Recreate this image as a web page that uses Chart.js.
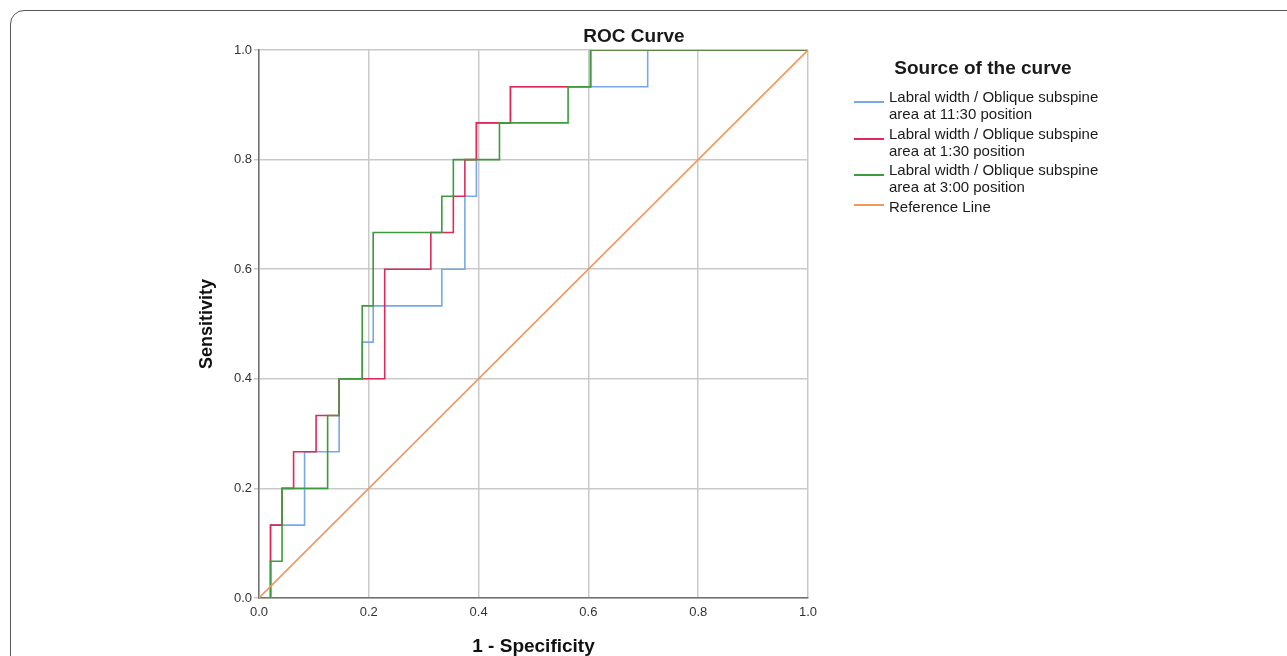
<!DOCTYPE html>
<html>
<head>
<meta charset="utf-8">
<title>ROC Curve</title>
<script src="https://cdn.jsdelivr.net/npm/chart.js@4.4.1/dist/chart.umd.min.js"></script>
<style>
    body { margin: 0; background: #ffffff; overflow: hidden; font-family: "Liberation Sans", Arial, sans-serif; }
    #frame { position: absolute; left: 10px; top: 10px; width: 1320px; height: 700px; border: 1.5px solid #555555; border-top-left-radius: 14px; }
    #myChart { position: absolute; left: 0; top: 0; }
    #chartTitle { position: absolute; left: 534px; top: 25px; width: 200px; text-align: center; font-size: 19px; line-height: 22px; font-weight: bold; color: #1a1a1a; }
    #legend { position: absolute; left: 853px; top: 57px; width: 260px; color: #1a1a1a; }
    #legend .legend_title { text-align: center; font-size: 19px; line-height: 22px; font-weight: bold; margin-bottom: 9px; }
    #legend .legend_item { display: flex; align-items: flex-start; margin-bottom: 2.5px; }
    #legend .legend_line { width: 30px; height: 2px; margin-right: 5px; margin-left: 1px; flex: none; }
    #legend .legend_text { font-size: 15px; line-height: 17px; }
</style>
</head>
<body>
<div id="frame"></div>
<canvas id="myChart" width="1287" height="656"></canvas>
<div id="chartTitle">ROC Curve</div>
<div id="legend"></div>
<script>
var chart;

// ROC coordinates (1 - specificity, sensitivity)
const fpr1130 = [0, 0.021, 0.021, 0.083, 0.083, 0.146, 0.146, 0.188, 0.188, 0.208, 0.208, 0.333, 0.333, 0.375, 0.375, 0.396, 0.396, 0.458, 0.458, 0.708, 0.708, 1];
const tpr1130 = [0, 0, 0.133, 0.133, 0.267, 0.267, 0.4, 0.4, 0.467, 0.467, 0.533, 0.533, 0.6, 0.6, 0.733, 0.733, 0.867, 0.867, 0.933, 0.933, 1, 1];

const fpr130 = [0, 0.021, 0.021, 0.042, 0.042, 0.063, 0.063, 0.104, 0.104, 0.146, 0.146, 0.229, 0.229, 0.313, 0.313, 0.354, 0.354, 0.375, 0.375, 0.396, 0.396, 0.458, 0.458, 0.604, 0.604, 1];
const tpr130 = [0, 0, 0.133, 0.133, 0.2, 0.2, 0.267, 0.267, 0.333, 0.333, 0.4, 0.4, 0.6, 0.6, 0.667, 0.667, 0.733, 0.733, 0.8, 0.8, 0.867, 0.867, 0.933, 0.933, 1, 1];

const fpr300 = [0, 0.021, 0.021, 0.042, 0.042, 0.125, 0.125, 0.146, 0.146, 0.188, 0.188, 0.208, 0.208, 0.333, 0.333, 0.354, 0.354, 0.438, 0.438, 0.563, 0.563, 0.604, 0.604, 1];
const tpr300 = [0, 0, 0.067, 0.067, 0.2, 0.2, 0.333, 0.333, 0.4, 0.4, 0.533, 0.533, 0.667, 0.667, 0.733, 0.733, 0.8, 0.8, 0.867, 0.867, 0.933, 0.933, 1, 1];

const fprReference = [0, 1];
const tprReference = [0, 1];

const seriesLabels = [
    'Labral width / Oblique subspine\narea at 11:30 position',
    'Labral width / Oblique subspine\narea at 1:30 position',
    'Labral width / Oblique subspine\narea at 3:00 position',
    'Reference Line'
];
const axisTicks = [0, 0.2, 0.4, 0.6, 0.8, 1.0];

const colours = ['#77a9ea', '#dc2a5c', '#3d9a3d', '#f3975c'];

window.onload = function ()
{
    Chart.defaults.font.family = '"Liberation Sans", Arial, sans-serif';
    InitializeChart();
    BuildLegend();
};

function ToPoints(xs, ys) {
    var points = [];
    for (var i = 0; i < xs.length; i++) {
        points.push({ x: xs[i], y: ys[i] });
    }
    return points;
}

function InitializeChart() {
    var series = [
        [fpr1130, tpr1130],
        [fpr130, tpr130],
        [fpr300, tpr300],
        [fprReference, tprReference]
    ];
    // later curves are painted over earlier ones, like the original
    var drawOrder = [4, 3, 2, 1];

    var datasets = [];
    for (var i = 0; i < series.length; i++) {
        datasets.push({
            label: seriesLabels[i],
            data: ToPoints(series[i][0], series[i][1]),
            borderColor: colours[i],
            backgroundColor: colours[i],
            borderWidth: 1.6,
            pointRadius: 0,
            tension: 0,
            fill: false,
            order: drawOrder[i]
        });
    }

    var gridColour = '#c9c9c9';
    var axisColour = '#707070';

    chart = new Chart(document.getElementById('myChart'), {
        type: 'line',
        data: { datasets: datasets },
        options: {
            responsive: false,
            animation: false,
            layout: {
                padding: { left: 190, right: 479, top: 50, bottom: 0 }
            },
            plugins: {
                legend: { display: false },
                tooltip: { enabled: false }
            },
            scales: {
                x: {
                    type: 'linear',
                    min: 0,
                    max: 1,
                    afterFit: function (scale) { scale.height = 58; },
                    afterBuildTicks: function (scale) {
                        scale.ticks = axisTicks.map(function (v) { return { value: v }; });
                    },
                    ticks: {
                        callback: function (value) { return value.toFixed(1); },
                        font: { size: 13 },
                        color: '#333333',
                        padding: 7,
                        maxRotation: 0
                    },
                    grid: { color: gridColour, lineWidth: 1.5, drawTicks: false },
                    border: { color: axisColour, width: 1.5 },
                    title: {
                        display: true,
                        text: '1 - Specificity',
                        font: { size: 19, weight: 'bold' },
                        color: '#111111',
                        padding: { top: 0, bottom: -2 }
                    }
                },
                y: {
                    type: 'linear',
                    min: 0,
                    max: 1,
                    afterFit: function (scale) { scale.width = 69; },
                    afterBuildTicks: function (scale) {
                        scale.ticks = axisTicks.map(function (v) { return { value: v }; });
                    },
                    ticks: {
                        callback: function (value) { return value.toFixed(1); },
                        font: { size: 13 },
                        color: '#333333',
                        padding: 2
                    },
                    grid: { color: gridColour, lineWidth: 1.5, tickLength: 5 },
                    border: { color: axisColour, width: 1.5 },
                    title: {
                        display: true,
                        text: 'Sensitivity',
                        font: { size: 18, weight: 'bold' },
                        color: '#111111',
                        padding: { top: 6, bottom: 0 }
                    }
                }
            }
        }
    });
}

function BuildLegend() {
    var legend = document.getElementById('legend');

    var title = document.createElement('div');
    title.className = 'legend_title';
    title.textContent = 'Source of the curve';
    legend.appendChild(title);

    chart.data.datasets.forEach(function (dataset) {
        var parts = dataset.label.split('\n');

        var item = document.createElement('div');
        item.className = 'legend_item';

        var line = document.createElement('div');
        line.className = 'legend_line';
        line.style.backgroundColor = dataset.borderColor;
        // the marker sits just under the first text line
        line.style.marginTop = (parts.length > 1 ? 13 : 6) + 'px';

        var text = document.createElement('div');
        text.className = 'legend_text';
        parts.forEach(function (part, index) {
            if (index > 0) {
                text.appendChild(document.createElement('br'));
            }
            text.appendChild(document.createTextNode(part));
        });

        item.appendChild(line);
        item.appendChild(text);
        legend.appendChild(item);
    });
}
</script>
</body>
</html>
